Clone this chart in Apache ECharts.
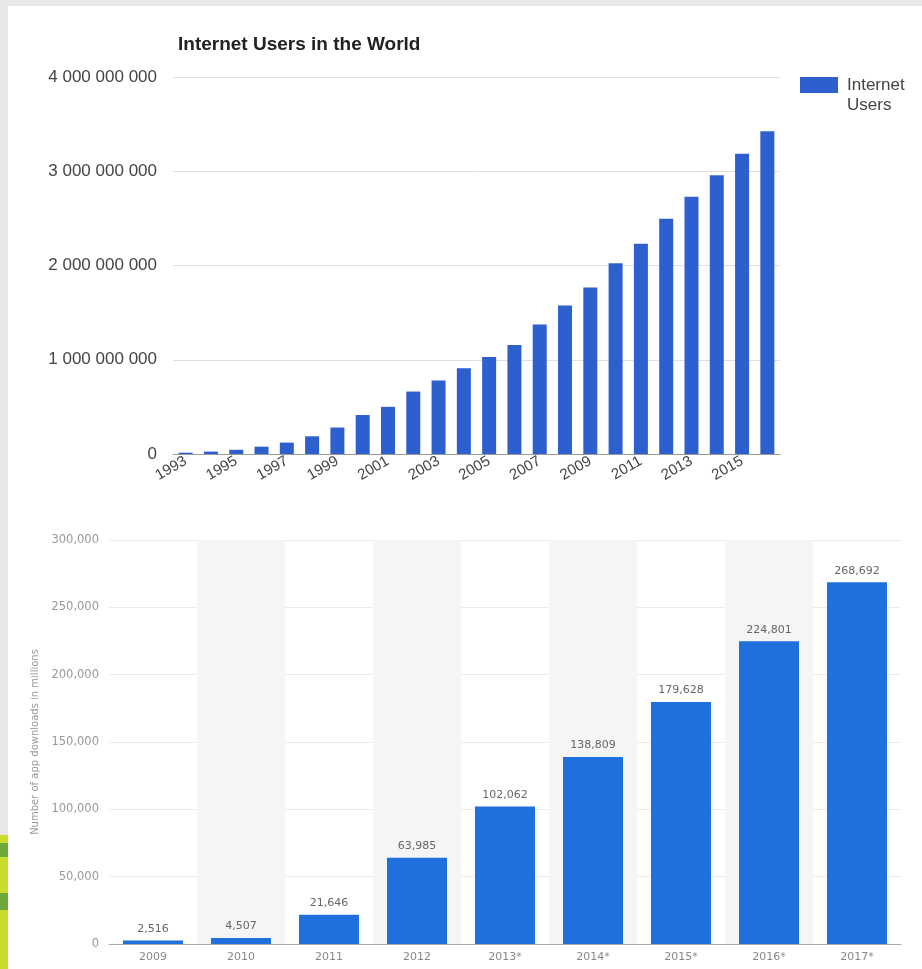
<!DOCTYPE html>
<html><head><meta charset="utf-8">
<script src="https://cdn.jsdelivr.net/npm/echarts@6/dist/echarts.min.js"></script>
<style>
html,body{margin:0;padding:0;width:922px;height:969px;overflow:hidden;background:#e7e7e7;}
#panel{position:absolute;left:8px;top:6px;width:914px;height:963px;background:#fff;}
#strip{position:absolute;left:0;top:835px;width:8px;height:134px;background:linear-gradient(to bottom,#c9dc2c 0px,#c9dc2c 8px,#6fa83a 8px,#6fa83a 22px,#c9dc2c 22px,#c9dc2c 58px,#6fa83a 58px,#6fa83a 75px,#c9dc2c 75px);}
#chart{position:absolute;left:0;top:0;width:922px;height:969px;}
</style></head>
<body><div id="panel"></div><div id="strip"></div><div id="chart"></div>
<script>
const topTitle = 'Internet Users in the World';
const seriesName = 'Internet Users';
const years = ['1993','1994','1995','1996','1997','1998','1999','2000','2001','2002','2003','2004','2005','2006','2007','2008','2009','2010','2011','2012','2013','2014','2015','2016'];
const internetUsers = [14161570,25454590,44838900,77433860,120758310,188023930,280866670,413425190,500609240,662663600,778555680,910060180,1029717906,1157500065,1373040542,1575067520,1766206668,2023202974,2231957359,2494736248,2728428107,2956385569,3185996155,3424971237];
const topTicks = [0, 1000000000, 2000000000, 3000000000, 4000000000];

const appYears = ['2009','2010','2011','2012','2013*','2014*','2015*','2016*','2017*'];
const appDownloads = [2516,4507,21646,63985,102062,138809,179628,224801,268692];
const bottomTicks = [0, 50000, 100000, 150000, 200000, 250000, 300000];
const bottomAxisName = 'Number of app downloads in millions';

const spaceFmt = v => String(v).replace(/\B(?=(\d{3})+(?!\d))/g, ' ');
const commaFmt = v => Number(v).toLocaleString('en-US');

const chart = echarts.init(document.getElementById('chart'), null, {renderer:'canvas'});
chart.setOption({
  animation: false,
  backgroundColor: 'transparent',
  title: {
    text: topTitle, left: 173, top: 30,
    textStyle: {fontFamily:'Liberation Sans', fontWeight:'bold', fontSize:19, color:'#222'}
  },
  legend: {
    data: [seriesName], left: 795, top: 50, icon: 'rect',
    itemWidth: 38, itemHeight: 16,
    formatter: () => ' \nInternet\nUsers',
    textStyle: {fontFamily:'Liberation Sans', fontSize:17, lineHeight:20, color:'#444', padding:[0,0,0,4]}
  },
  grid: [
    {left:173, right:142, top:77, bottom:515},
    {left:109, right:21, top:540, bottom:25}
  ],
  xAxis: [
    {type:'category', gridIndex:0, data: years,
     axisTick:{show:false}, axisLine:{lineStyle:{color:'#9a9a9a'}},
     axisLabel:{interval:1, rotate:30, fontFamily:'Liberation Sans', fontSize:15, color:'#444', margin:6}},
    {type:'category', gridIndex:1, data: appYears,
     axisTick:{show:false}, axisLine:{lineStyle:{color:'#aaa'}},
     axisLabel:{fontFamily:'DejaVu Sans', fontSize:11, color:'#888', margin:8},
     splitArea:{show:true, interval:0, areaStyle:{color:['rgba(255,255,255,0)','#f5f5f5']}}}
  ],
  yAxis: [
    {type:'value', gridIndex:0, min: topTicks[0], max: topTicks[topTicks.length-1], interval: topTicks[1]-topTicks[0],
     axisLine:{show:false}, axisTick:{show:false},
     axisLabel:{formatter: spaceFmt, fontFamily:'Liberation Sans', fontSize:17, color:'#444', margin:16},
     splitLine:{lineStyle:{color:'#e0e0e0'}}},
    {type:'value', gridIndex:1, min: bottomTicks[0], max: bottomTicks[bottomTicks.length-1], interval: bottomTicks[1]-bottomTicks[0],
     axisLine:{show:false}, axisTick:{show:false},
     axisLabel:{formatter: commaFmt, fontFamily:'DejaVu Sans', fontSize:11.5, color:'#999', margin:10},
     splitLine:{lineStyle:{color:'#ececec'}},
     name: bottomAxisName, nameLocation:'middle', nameGap:54,
     nameTextStyle:{fontFamily:'DejaVu Sans', fontSize:10, color:'#999'}}
  ],
  series: [
    {name: seriesName, type:'bar', xAxisIndex:0, yAxisIndex:0, data: internetUsers,
     barWidth:14, itemStyle:{color:'#2e5fcf'}},
    {name: 'App downloads', type:'bar', xAxisIndex:1, yAxisIndex:1, data: appDownloads,
     barWidth:60, itemStyle:{color:'#1f6fdc'},
     label:{show:true, position:'top', distance:6, formatter: p => commaFmt(p.value),
            fontFamily:'DejaVu Sans', fontSize:11, color:'#666'}}
  ]
});
</script>
</body></html>
